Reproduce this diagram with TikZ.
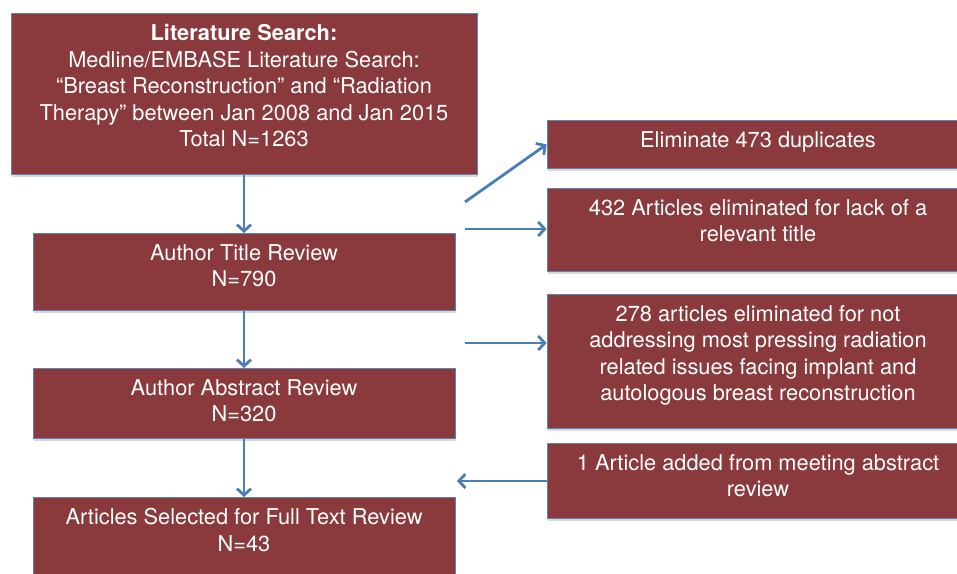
\documentclass[tikz,border=0pt]{standalone}
\usepackage{fontspec}
\setmainfont{TeX Gyre Heros}
\usetikzlibrary{arrows.meta,shadows}
\definecolor{boxred}{RGB}{138,58,60}
\definecolor{boxline}{RGB}{92,132,186}
\definecolor{flowblue}{RGB}{74,126,187}

\begin{document}
\begin{tikzpicture}[x=1pt, y=-1pt,
  box/.style={draw=boxline, line width=0.8pt, fill=boxred, text=white,
    align=center, anchor=north, inner ysep=11pt, minimum width=422pt,
    font=\fontsize{21.8}{26.5}\selectfont,
    drop shadow={shadow xshift=0.5pt, shadow yshift=-2.5pt, opacity=0.3}},
  flow/.style={draw=flowblue, line width=2.8pt,
    -{Straight Barb[length=6.5pt, width=14pt]}}]
  \useasboundingbox (0,0) rectangle (957,573);
  \clip (0,0) rectangle (957,573);

  % Main column
  \node[box, minimum width=466pt, text depth=17pt] (search) at (244,13)
    {\textbf{Literature Search:}\\ Medline/EMBASE Literature Search:\\
     “Breast Reconstruction” and “Radiation\\
     Therapy” between Jan 2008 and Jan 2015\\ Total N=1263};
  \node[box, text depth=13pt] (title) at (244,233) {Author Title Review\\ N=790};
  \node[box, text depth=6pt] (abstract) at (244,368) {Author Abstract Review\\ N=320};
  \node[box, text depth=40pt] (selected) at (244,497)
    {Articles Selected for Full Text Review\\ N=43};

  % Side boxes
  \node[box, text depth=10pt] (dup) at (758,120) {Eliminate 473 duplicates};
  \node[box, text depth=19pt] (notitle) at (758,188)
    {432 Articles eliminated for lack of a\\ relevant title};
  \node[box, text depth=17pt] (notrel) at (758,294)
    {278 articles eliminated for not\\ addressing most pressing radiation\\
     related issues facing implant and\\ autologous breast reconstruction};
  \node[box, text depth=11pt] (added) at (758,443)
    {1 Article added from meeting abstract\\ review};

  % Arrows
  \draw[flow] (search) -- (title);
  \draw[flow] (title) -- (abstract);
  \draw[flow] (abstract) -- (selected);

  \coordinate (d1) at (465,202);
  \coordinate (d2) at (465,229);
  \coordinate (d3) at (465,343);
  \coordinate (a1) at (457,481);
  \draw[flow] (d1) -- (dup.west);
  \draw[flow] (d2) -- (d2 -| notitle.west);
  \draw[flow] (d3) -- (d3 -| notrel.west);
  \draw[flow] (a1 -| added.west) -- (a1);
\end{tikzpicture}
\end{document}
